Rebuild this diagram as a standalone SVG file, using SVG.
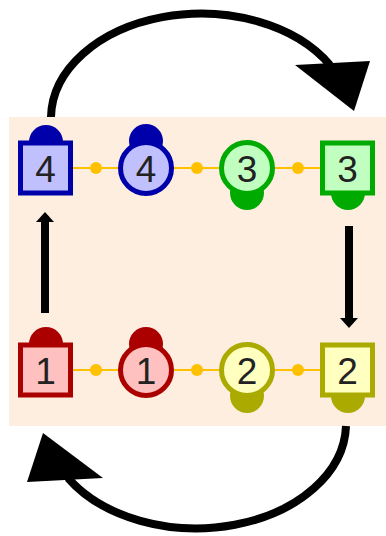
<svg xmlns="http://www.w3.org/2000/svg" width="386" height="536" viewBox="0 0 386 536">
<style>
.lbl{font-family:"Liberation Sans",Arial,sans-serif;font-size:37px;fill:#222;text-anchor:middle}
.link{stroke:#ffc000;stroke-width:2;fill:none}
.dot{fill:#ffc000}
.arc{stroke:#000;stroke-width:8;fill:none}
.b{stroke:#0000aa;fill:#c0c0ff;stroke-width:5}
.bd{fill:#0000aa}
.g{stroke:#00aa00;fill:#c0ffc0;stroke-width:5}
.gd{fill:#00aa00}
.r{stroke:#aa0000;fill:#ffc0c0;stroke-width:5}
.rd{fill:#aa0000}
.y{stroke:#aaaa00;fill:#ffffc0;stroke-width:5}
.yd{fill:#aaaa00}
</style>
<rect x="9" y="117" width="377" height="309" fill="#fdeedf"/>
<g id="connectors">
<line class="link" x1="73" y1="168" x2="118" y2="168"/>
<line class="link" x1="174" y1="168" x2="219" y2="168"/>
<line class="link" x1="275" y1="168" x2="320" y2="168"/>
<line class="link" x1="73" y1="370" x2="118" y2="370"/>
<line class="link" x1="174" y1="370" x2="219" y2="370"/>
<line class="link" x1="275" y1="370" x2="320" y2="370"/>
<circle class="dot" cx="96" cy="168" r="6"/>
<circle class="dot" cx="197" cy="168" r="6"/>
<circle class="dot" cx="298" cy="168" r="6"/>
<circle class="dot" cx="96" cy="370" r="6"/>
<circle class="dot" cx="197" cy="370" r="6"/>
<circle class="dot" cx="298" cy="370" r="6"/>
<path class="arc" d="M51,117 A150,105 0 0 1 330,65"/>
<polygon points="295,65 370,61 354,111" fill="#000"/>
<path class="arc" d="M346,426 A150,105 0 0 1 68,478"/>
<polygon points="43,433 27,482 103,478" fill="#000"/>
<rect x="41" y="222" width="8" height="91" fill="#000"/>
<polygon points="36,222 54,222 45,212" fill="#000"/>
<rect x="345" y="226" width="8" height="92" fill="#000"/>
<polygon points="340,318 358,318 349,328" fill="#000"/>
</g>
<g id="node-sq4">
<circle class="bd" cx="46" cy="142" r="17"/>
<rect class="b" x="20.5" y="143" width="50" height="50"/>
<text class="lbl" x="45.5" y="182">4</text>
</g>
<g id="node-c4">
<circle class="bd" cx="146" cy="141" r="17"/>
<circle class="b" cx="146" cy="168" r="25.5"/>
<text class="lbl" x="146" y="182">4</text>
</g>
<g id="node-c3">
<circle class="gd" cx="247" cy="193" r="17"/>
<circle class="g" cx="247" cy="168" r="25.5"/>
<text class="lbl" x="247" y="182">3</text>
</g>
<g id="node-sq3">
<circle class="gd" cx="348" cy="193" r="17"/>
<rect class="g" x="322.5" y="143" width="50" height="50"/>
<text class="lbl" x="347.5" y="182">3</text>
</g>
<g id="node-sq1">
<circle class="rd" cx="46" cy="344" r="17"/>
<rect class="r" x="20.5" y="345" width="50" height="50"/>
<text class="lbl" x="45.5" y="384">1</text>
</g>
<g id="node-c1">
<circle class="rd" cx="146" cy="344" r="17"/>
<circle class="r" cx="146" cy="370" r="25.5"/>
<text class="lbl" x="146" y="384">1</text>
</g>
<g id="node-c2">
<circle class="yd" cx="247" cy="396" r="17"/>
<circle class="y" cx="247" cy="370" r="25.5"/>
<text class="lbl" x="247" y="384">2</text>
</g>
<g id="node-sq2">
<circle class="yd" cx="348" cy="396" r="17"/>
<rect class="y" x="322.5" y="345" width="50" height="50"/>
<text class="lbl" x="347.5" y="384">2</text>
</g>
</svg>
